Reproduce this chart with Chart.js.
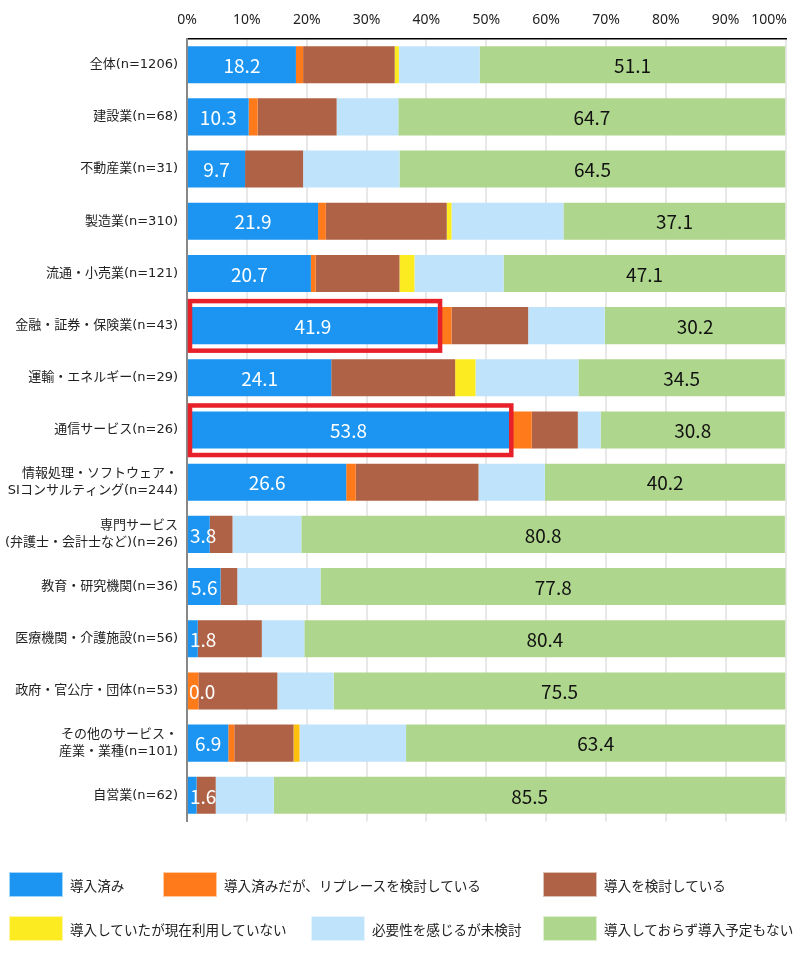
<!DOCTYPE html>
<html lang="ja">
<head>
<meta charset="utf-8">
<script src="https://cdn.jsdelivr.net/npm/chart.js@4/dist/chart.umd.min.js"></script>
<style>
  body { margin: 0; background: #fff; }
  #wrap { position: relative; width: 801px; height: 965px; }
  #chart { position: absolute; left: 0; top: 0; }
  .lg { position: absolute; display: flex; align-items: center; font: 13.6px "Noto Sans CJK JP", sans-serif; color: #222; white-space: nowrap; }
  .lg span.box { display: inline-block; width: 54px; height: 25px; margin-right: 7px; box-sizing: border-box; border: 1px solid rgba(255,255,255,0.6); }
</style>
</head>
<body>
<div id="wrap">
  <canvas id="chart" width="801" height="965"></canvas>
  <div id="legend"></div>
</div>
<script>
// カテゴリ（業種）
const categories = [
    '全体(n=1206)',
    '建設業(n=68)',
    '不動産業(n=31)',
    '製造業(n=310)',
    '流通・小売業(n=121)',
    '金融・証券・保険業(n=43)',
    '運輸・エネルギー(n=29)',
    '通信サービス(n=26)',
    ['情報処理・ソフトウェア・', 'SIコンサルティング(n=244)'],
    ['専門サービス', '(弁護士・会計士など)(n=26)'],
    '教育・研究機関(n=36)',
    '医療機関・介護施設(n=56)',
    '政府・官公庁・団体(n=53)',
    ['その他のサービス・', '産業・業種(n=101)'],
    '自営業(n=62)'
];

const seriesNames = [
    '導入済み',
    '導入済みだが、リプレースを検討している',
    '導入を検討している',
    '導入していたが現在利用していない',
    '必要性を感じるが未検討',
    '導入しておらず導入予定もない'
];

// 値（%）
const installed   = [18.2, 10.3, 9.7, 21.9, 20.7, 41.9, 24.1, 53.8, 26.6, 3.8, 5.6, 1.8, 0.0, 6.9, 1.6];
const replacing   = [1.2, 1.5, 0, 1.3, 0.8, 2.3, 0, 3.8, 1.6, 0, 0, 0, 1.9, 1.0, 0];
const considering = [15.3, 13.2, 9.7, 20.2, 14.0, 12.8, 20.7, 7.7, 20.5, 3.8, 2.8, 10.7, 13.2, 9.9, 3.2];
const stopped     = [0.7, 0, 0, 0.8, 2.5, 0, 3.4, 0, 0, 0, 0, 0, 0, 1.0, 0];
const notYet      = [13.5, 10.3, 16.1, 18.7, 14.9, 12.8, 17.2, 3.8, 11.1, 11.5, 13.9, 7.1, 9.4, 17.8, 9.7];
const noPlan      = [51.1, 64.7, 64.5, 37.1, 47.1, 30.2, 34.5, 30.8, 40.2, 80.8, 77.8, 80.4, 75.5, 63.4, 85.5];

const xTicks = [0, 10, 20, 30, 40, 50, 60, 70, 80, 90, 100];

// 強調する行（赤枠）
const highlighted = [5, 7];

const COLORS = ['#1B95F1', '#FE7A1B', '#B06246', '#FDEB22', '#BFE3FB', '#AFD68D'];
// その他のサービスの行だけ黄色が濃い
const stoppedColors = categories.map((c, i) => i === 13 ? '#FDC00C' : COLORS[3]);

const FONT = '"Noto Sans CJK JP", "Noto Sans", sans-serif';
const LABEL_FONT = '"DejaVu Sans", "Noto Sans CJK JP", sans-serif';

/**
 * 上部の目盛りラベル（100%は右端からはみ出さないよう寄せる）
 */
const topTicks = {
    id: 'topTicks',
    afterDraw(chart) {
        const ctx = chart.ctx;
        const scale = chart.scales.x;
        ctx.save();
        ctx.font = '14px "Noto Sans", sans-serif';
        ctx.fillStyle = '#222';
        ctx.textBaseline = 'middle';
        ctx.textAlign = 'center';
        xTicks.forEach(v => {
            const text = v + '%';
            const w = ctx.measureText(text).width;
            let x = scale.getPixelForValue(v);
            x = Math.min(x, chart.width - 14 - w / 2);
            ctx.fillText(text, x, 20);
        });
        ctx.restore();
    }
};

/**
 * 値ラベル（導入済み：白、予定なし：黒）
 */
const valueLabels = {
    id: 'valueLabels',
    afterDatasetsDraw(chart) {
        const ctx = chart.ctx;
        ctx.save();
        ctx.font = '19px ' + FONT;
        ctx.textAlign = 'center';
        ctx.textBaseline = 'middle';

        // 導入済み
        chart.getDatasetMeta(0).data.forEach((bar, i) => {
            const text = installed[i].toFixed(1);
            const w = ctx.measureText(text).width;
            const left = Math.min(bar.x, bar.base);
            const cx = Math.max((bar.x + bar.base) / 2, left + 2 + w / 2);
            ctx.fillStyle = '#fff';
            ctx.fillText(text, cx, bar.y + 1);
        });

        // 導入予定なし
        chart.getDatasetMeta(5).data.forEach((bar, i) => {
            ctx.fillStyle = '#111';
            ctx.fillText(noPlan[i].toFixed(1), (bar.x + bar.base) / 2, bar.y + 1);
        });
        ctx.restore();
    }
};

/**
 * 赤枠で強調
 */
const highlightBoxes = {
    id: 'highlightBoxes',
    afterDatasetsDraw(chart) {
        const ctx = chart.ctx;
        const meta = chart.getDatasetMeta(0);
        ctx.save();
        ctx.strokeStyle = '#E8202A';
        ctx.lineWidth = 4.5;
        highlighted.forEach(i => {
            const bar = meta.data[i];
            const left = bar.base + 2;
            const right = bar.x + 2.3;
            const top = bar.y - bar.height / 2 - 6;
            const bottom = bar.y + bar.height / 2 + 6.5;
            ctx.strokeRect(left, top, right - left, bottom - top);
        });
        ctx.restore();
    }
};

const seriesData = [installed, replacing, considering, stopped, notYet, noPlan];

new Chart(document.getElementById('chart').getContext('2d'), {
    type: 'bar',
    data: {
        labels: categories,
        datasets: seriesData.map((d, k) => ({
            label: seriesNames[k],
            data: d,
            backgroundColor: k === 3 ? stoppedColors : COLORS[k],
            borderWidth: 0,
            barPercentage: 0.71,
            categoryPercentage: 1
        }))
    },
    options: {
        indexAxis: 'y',
        responsive: false,
        animation: false,
        layout: {
            padding: { left: 0, right: 15.5, top: 0, bottom: 143.6 }
        },
        plugins: {
            legend: { display: false },
            tooltip: { enabled: false }
        },
        scales: {
            x: {
                position: 'top',
                stacked: true,
                min: 0,
                max: 100,
                afterBuildTicks: scale => {
                    scale.ticks = xTicks.map(v => ({ value: v }));
                },
                afterFit: scale => {
                    scale.height = 38.6;
                    scale.paddingLeft = 0;
                    scale.paddingRight = 0;
                },
                grid: {
                    color: '#e8e8e8',
                    lineWidth: 2,
                    drawTicks: false
                },
                border: { color: '#000', width: 1.5 },
                ticks: { display: false }
            },
            y: {
                stacked: true,
                afterFit: scale => { scale.width = 187; },
                grid: { display: false, drawTicks: false },
                border: { color: '#888', width: 2 },
                ticks: {
                    padding: 9,
                    color: '#222',
                    font: { family: LABEL_FONT, size: 13, lineHeight: 1.3 }
                }
            }
        }
    },
    plugins: [topTicks, valueLabels, highlightBoxes]
});

// 凡例（3列×2行）
const legendPos = [
    [9, 872], [163, 872], [543, 872],
    [9, 916], [311, 916], [543, 916]
];
const legend = document.getElementById('legend');
seriesNames.forEach((name, k) => {
    const item = document.createElement('div');
    item.className = 'lg';
    item.style.left = legendPos[k][0] + 'px';
    item.style.top = legendPos[k][1] + 'px';
    item.innerHTML = `<span class="box" style="background:${COLORS[k]}"></span>${name}`;
    legend.appendChild(item);
});
</script>
</body>
</html>
